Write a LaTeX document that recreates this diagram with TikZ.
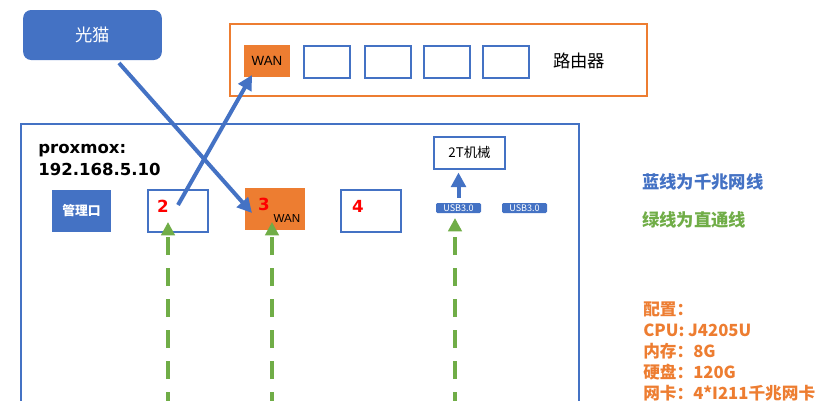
\documentclass[tikz,border=0pt]{standalone}
\usepackage{fontspec}
\setmainfont{Noto Sans CJK SC}
\newfontfamily\arialfont{Liberation Sans}
\newfontfamily\dejafont{DejaVu Sans}
\usetikzlibrary{arrows.meta}
\definecolor{msblue}{HTML}{4472C4}
\definecolor{msorange}{HTML}{ED7D31}
\definecolor{msgreen}{HTML}{70AD47}
\tikzset{
  port/.style={draw=msblue, line width=1.5pt, fill=white, inner sep=0pt, minimum width=34.5pt, minimum height=24pt},
  nic/.style={draw=msblue, line width=1.5pt, fill=white, inner sep=0pt, minimum width=45pt, minimum height=31.5pt},
  usb/.style={fill=msblue, rounded corners=1pt, text=white, inner sep=0pt, minimum width=33.75pt, minimum height=7.5pt, font=\fontsize{6.8}{6.8}\selectfont},
  digit/.style={text=red, font=\dejafont\bfseries\fontsize{12.5}{12.5}\selectfont},
  gige/.style={draw=msblue, line width=3pt, -{Triangle[length=11pt,width=11pt]}},
  direct/.style={draw=msgreen, line width=3pt, dash pattern=on 13.5pt off 9.75pt, -{Triangle[length=10pt,width=10pt]}},
}
\begin{document}
\begin{tikzpicture}[x=0.75pt, y=-0.75pt]
\useasboundingbox (0,0) rectangle (837,400);
\clip (0,0) rectangle (837,400);
% modem and router
\node[fill=msblue, rounded corners=6pt, minimum width=104pt, minimum height=37.5pt, text=white, font=\fontsize{13}{13}\selectfont] (modem) at (92.5,35) {光猫};
\node[draw=msorange, line width=1.5pt, minimum width=312.75pt, minimum height=54pt] (router) at (438.5,60) {};
\node[fill=msorange, inner sep=0pt, minimum width=34.5pt, minimum height=24pt, font=\arialfont\fontsize{10}{10}\selectfont] (wan) at (267,61) {WAN};
\foreach \x [count=\i] in {327,388,447,506}
  \node[port] (r\i) at (\x,62) {};
\node[anchor=west, inner sep=0pt, font=\fontsize{13}{13}\selectfont] (rname) at (553,61) {路由器};
% proxmox host
\node[draw=msblue, line width=1.5pt, anchor=north west, minimum width=418.5pt, minimum height=225pt] (host) at (20,123) {};
\node[anchor=base west, align=left, inner sep=0pt, font=\dejafont\bfseries\fontsize{12.4}{16.5}\selectfont] (pve) at (38,175) {proxmox:\\192.168.5.10};
\node[fill=msblue, inner sep=0pt, minimum width=44.25pt, minimum height=31.5pt, text=white, font=\bfseries\fontsize{9.6}{9.6}\selectfont] (mgmt) at (81.5,211) {管理口};
\node[nic] (p2) at (178,211) {};
\node[nic, draw=none, fill=msorange] (p3) at (275,209) {};
\node[nic] (p4) at (371,211) {};
\node[digit] (n2) at (163,206) {2};
\node[digit] (n3) at (264,204) {3};
\node[digit] (n4) at (358,206) {4};
\node[font=\arialfont\fontsize{8.7}{8.7}\selectfont] (w3) at (287,219) {WAN};
\node[draw=msblue, line width=1.5pt, inner sep=0pt, minimum width=53.25pt, minimum height=24pt, font=\fontsize{10}{10}\selectfont] (disk) at (469.5,152.5) {2T机械};
\node[usb] (usb1) at (458.5,208) {USB3.0};
\node[usb] (usb2) at (524.5,208) {USB3.0};
% legend
\node[anchor=west, inner sep=0pt, text=msblue, font=\bfseries\fontsize{13}{13}\selectfont] (lblue) at (642,182) {蓝线为千兆网线};
\node[anchor=west, inner sep=0pt, text=msgreen, font=\bfseries\fontsize{13}{13}\selectfont] (lgreen) at (642,220) {绿线为直通线};
\node[anchor=base west, align=left, inner sep=0pt, text=msorange, font=\bfseries\fontsize{12.5}{15.75}\selectfont] (spec) at (643,399.5)
  {配置：\\CPU: J4205U\\内存：8G\\硬盘：120G\\网卡：4*I211千兆网卡};
% connectors
\coordinate (m0) at (119,63);
\coordinate (m1) at (252,213);
\coordinate (e0) at (178,205);
\coordinate (e1) at (252,75);
\draw[gige] (m0) -- (m1);
\draw[gige] (e0) -- (e1);
\draw[gige, shorten <=3.75pt, shorten >=2.25pt] (usb1.north) -- (usb1.north |- disk.south);
\coordinate (g2) at (168,410);
\coordinate (t2) at (168,222);
\coordinate (g3) at (272,410);
\coordinate (t3) at (272,222);
\coordinate (g4) at (455,410);
\coordinate (t4) at (455,218);
\draw[direct] (g2) -- (t2);
\draw[direct] (g3) -- (t3);
\draw[direct] (g4) -- (t4);
\end{tikzpicture}
\end{document}
